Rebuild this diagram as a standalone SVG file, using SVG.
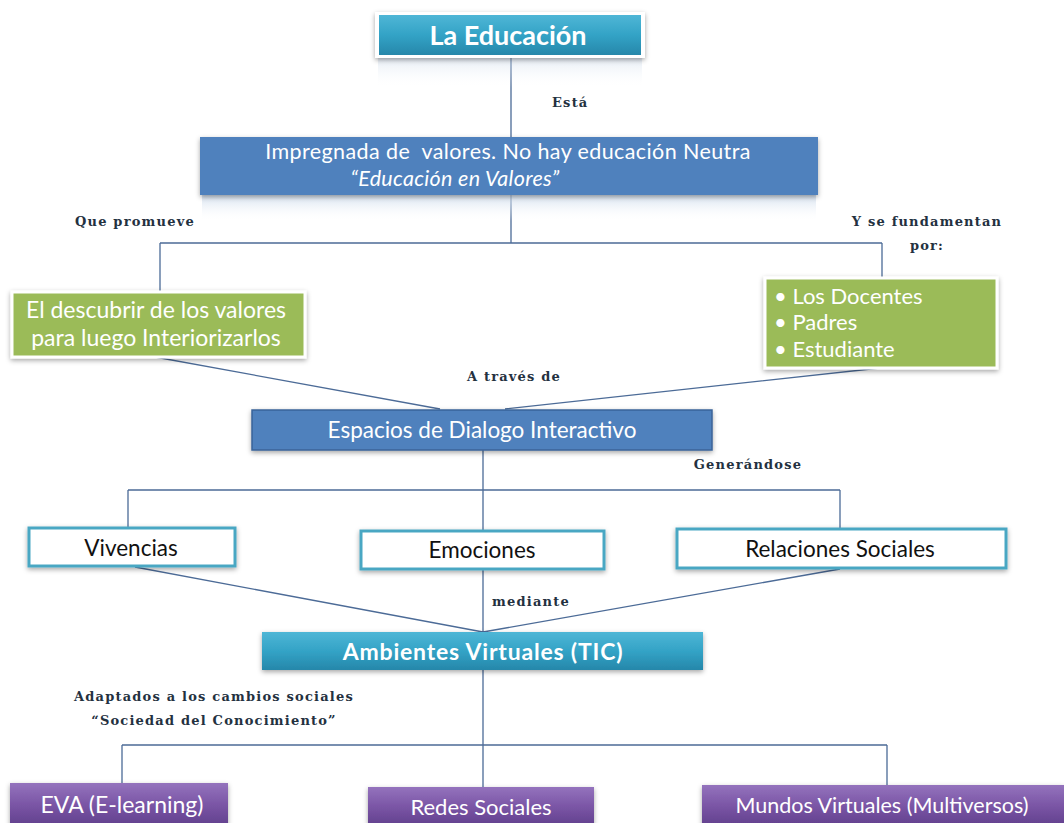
<svg xmlns="http://www.w3.org/2000/svg" width="1064" height="823" viewBox="0 0 1064 823">
<defs>
<linearGradient id="teal" x1="0" y1="0" x2="0" y2="1">
<stop offset="0" stop-color="#4fb6d6"/><stop offset="0.5" stop-color="#33a3c6"/><stop offset="1" stop-color="#2687aa"/>
</linearGradient>
<linearGradient id="purple" x1="0" y1="0" x2="0" y2="1">
<stop offset="0" stop-color="#9473bd"/><stop offset="0.5" stop-color="#7a55a5"/><stop offset="1" stop-color="#603f8c"/>
</linearGradient>
<linearGradient id="refl" x1="0" y1="0" x2="0" y2="1">
<stop offset="0" stop-color="#c9d8ea" stop-opacity="0.8"/><stop offset="1" stop-color="#ffffff" stop-opacity="0"/>
</linearGradient>
<filter id="sh" x="-10%" y="-30%" width="120%" height="170%">
<feDropShadow dx="0" dy="2" stdDeviation="2.5" flood-color="#000" flood-opacity="0.35"/>
</filter>
</defs>
<style>
.lbl{font-family:"DejaVu Serif",serif;font-size:13px;font-weight:bold;fill:#24313f;letter-spacing:1.2px}
.bt{font-family:Lato,"Open Sans",sans-serif;font-size:22px;fill:#ffffff;text-anchor:middle}
.bk{font-family:Lato,"Open Sans",sans-serif;font-size:22.5px;fill:#111111;text-anchor:middle}
.con{stroke:#4c6b97;stroke-width:1.3;fill:none}
</style>

<g id="connectors">
<path class="con" d="M511 58V137M511 195V243M160 243H882M160 243V292M882 243V278"/>
<path class="con" d="M155 357L440 409M880 368L505 409"/>
<path class="con" d="M483 450V490M128 490H840M128 490V527M483 490V530M840 490V528"/>
<path class="con" d="M135 567L483 632M840 569L483 632M483 569V632"/>
<path class="con" d="M483 670V787M122 745H887M122 745V783M887 745V785"/>
</g>

<g id="labels">
<text class="lbl" x="552" y="107">Está</text>
<text class="lbl" x="75" y="226">Que promueve</text>
<text class="lbl" x="927" y="226" text-anchor="middle">Y se fundamentan</text>
<text class="lbl" x="927" y="250" text-anchor="middle">por:</text>
<text class="lbl" x="514" y="381" text-anchor="middle">A través de</text>
<text class="lbl" x="748" y="469" text-anchor="middle">Generándose</text>
<text class="lbl" x="531" y="606" text-anchor="middle">mediante</text>
<text class="lbl" x="214" y="701" text-anchor="middle">Adaptados a los cambios sociales</text>
<text class="lbl" x="214" y="725" text-anchor="middle">“Sociedad del Conocimiento”</text>
</g>

<g id="n-educacion">
<rect x="378" y="58" width="264" height="30" fill="url(#refl)" opacity="0.6"/>
<rect x="375" y="12" width="270" height="46" fill="#ffffff" filter="url(#sh)"/>
<rect x="379" y="15" width="262" height="40" fill="url(#teal)"/>
<text x="508" y="45" class="bt" style="font-size:27px;font-weight:bold">La Educación</text>
</g>

<g id="n-impregnada">
<rect x="202" y="195" width="614" height="26" fill="url(#refl)"/>
<rect x="200" y="137" width="618" height="58" fill="#4f81bd" filter="url(#sh)"/>
<text x="508" y="159" class="bt" style="font-size:21.5px;letter-spacing:0.4px" xml:space="preserve">Impregnada de  valores. No hay educación Neutra</text>
<text x="455" y="186" class="bt" style="font-style:italic;font-size:21.5px;letter-spacing:0.3px">“Educación en Valores”</text>
</g>

<g id="n-descubrir">
<rect x="12" y="292" width="293" height="65" fill="#9bbb59" stroke="#ffffff" stroke-width="3" filter="url(#sh)"/>
<text x="156" y="318" class="bt" style="font-size:23px">El descubrir de los valores</text>
<text x="156" y="346" class="bt" style="font-size:23px">para luego Interiorizarlos</text>
</g>

<g id="n-actores">
<rect x="765" y="278" width="232" height="90" fill="#9bbb59" stroke="#ffffff" stroke-width="3" filter="url(#sh)"/>
<text x="774" y="304" class="bt" style="text-anchor:start">• Los Docentes</text>
<text x="774" y="330" class="bt" style="text-anchor:start">• Padres</text>
<text x="774" y="357" class="bt" style="text-anchor:start">• Estudiante</text>
</g>

<g id="n-espacios">
<rect x="252" y="410" width="460" height="40" fill="#4f81bd" stroke="#3a6499" stroke-width="1.5" filter="url(#sh)"/>
<text x="482" y="438" class="bt" style="font-size:22.5px">Espacios de Dialogo Interactivo</text>
</g>

<g id="n-vivencias">
<rect x="29" y="528" width="206" height="38" fill="#ffffff" stroke="#4aa7c3" stroke-width="3" filter="url(#sh)"/>
<text x="131" y="556" class="bk">Vivencias</text>
</g>

<g id="n-emociones">
<rect x="361" y="531" width="243" height="38" fill="#ffffff" stroke="#4aa7c3" stroke-width="3" filter="url(#sh)"/>
<text x="482" y="558" class="bk">Emociones</text>
</g>

<g id="n-relaciones">
<rect x="677" y="529" width="329" height="39" fill="#ffffff" stroke="#4aa7c3" stroke-width="3" filter="url(#sh)"/>
<text x="840" y="557" class="bk">Relaciones Sociales</text>
</g>

<g id="n-ambientes">
<rect x="262" y="632" width="441" height="38" fill="url(#teal)" filter="url(#sh)"/>
<text x="483" y="660" class="bt" style="font-weight:bold;font-size:23px;letter-spacing:0.8px">Ambientes Virtuales (TIC)</text>
</g>

<g id="n-eva">
<rect x="10" y="783" width="218" height="44" fill="url(#purple)" filter="url(#sh)"/>
<text x="122" y="813" class="bt" style="font-size:23px">EVA (E-learning)</text>
</g>

<g id="n-redes">
<rect x="368" y="787" width="226" height="40" fill="url(#purple)" filter="url(#sh)"/>
<text x="481" y="815" class="bt">Redes Sociales</text>
</g>

<g id="n-mundos">
<rect x="702" y="785" width="362" height="42" fill="url(#purple)" filter="url(#sh)"/>
<text x="882" y="813" class="bt" style="font-size:21.5px">Mundos Virtuales (Multiversos)</text>
</g>
</svg>
